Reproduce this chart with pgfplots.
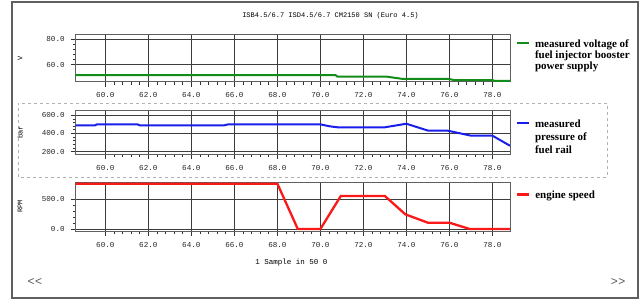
\documentclass[border=0pt]{standalone}
\usepackage{fontspec}
\setmainfont{Liberation Serif}
\setmonofont{Liberation Mono}
\setsansfont{Liberation Sans}
\usepackage{pgfplots}
\pgfplotsset{compat=1.18}
\definecolor{cgreen}{RGB}{20,140,25}
\definecolor{cblue}{RGB}{25,30,235}
\definecolor{cred}{RGB}{250,25,25}
\definecolor{gridc}{RGB}{60,60,60}
\definecolor{framec}{RGB}{95,95,95}
\pgfplotsset{panel/.style={
  scale only axis, width=434.3pt,
  xmin=58.62, xmax=78.82,
  xtick={60,62,...,78}, minor x tick num=4, minor y tick num=4,
  grid=major, major grid style={draw=gridc, line width=0.8pt},
  axis line style={draw=framec, line width=1pt},
  tick align=outside, tick pos=left,
  major tick length=5pt, minor tick length=3pt,
  every tick/.style={draw=black!80, line width=0.8pt},
  ticklabel style={font=\ttfamily\fontsize{7.6}{8}\selectfont, text=black!85},
  /pgf/number format/assume math mode=true,
  xticklabel style={yshift=-2.5pt, /pgf/number format/.cd, fixed, fixed zerofill, precision=1},
  yticklabel style={xshift=-2.5pt, /pgf/number format/.cd, fixed, fixed zerofill, precision=1},
  every axis y label/.style={at={(axis description cs:-0.128,0.5)}, anchor=center, rotate=90, font=\ttfamily\fontsize{7}{7}\selectfont},
  legend style={draw=none, fill=none, at={(rel axis cs:1,1)}, anchor=north west,
     inner sep=0pt, outer sep=0pt, xshift=6pt, yshift=-2.5pt,
     font=\bfseries\fontsize{11}{11}\selectfont, cells={anchor=base west}, column sep=3pt},
  legend image code/.code={\draw[#1] (0pt,3.8pt) -- (12pt,3.8pt);},
}}
\begin{document}
\begin{tikzpicture}
\useasboundingbox (0pt,0pt) rectangle (642pt,303pt);
% outer frame and middle box
\draw[framec, line width=1.5pt] (12pt,5pt) rectangle (638pt,301pt);
\draw[black!30, dashed, line width=0.6pt] (18pt,126pt) rectangle (607pt,200pt);
% title and footer
\node[font=\ttfamily\fontsize{7}{8}\selectfont] at (330.5pt,287pt) {ISB4.5/6.7 ISD4.5/6.7 CM2150 SN (Euro 4.5)};
\node[font=\ttfamily\fontsize{7.5}{8}\selectfont] at (291.5pt,40pt) {1 Sample in 50 0};
\node[font=\sffamily\fontsize{12}{12}\selectfont, text=black!65] at (35pt,21pt) {{<}\kern0.5pt{<}};
\node[font=\sffamily\fontsize{12}{12}\selectfont, text=black!65] at (618pt,21pt) {{>}\kern0.5pt{>}};

% top panel: voltage
\begin{axis}[panel, at={(75.7pt,221.3pt)}, anchor=south west, height=46.7pt,
  ymin=46.8, ymax=83.1, ytick={60,80}, ylabel={V}]
\addplot[cgreen, line width=2pt] coordinates {
 (58.62,52.0) (70.7,52.0) (70.8,50.7) (73.1,50.7) (73.85,48.9) (76.0,48.9)
 (76.2,48.1) (78.0,48.1) (78.1,47.4) (78.82,47.4)};
\addlegendentry{\parbox[t]{110pt}{\raggedright measured voltage of\\fuel injector booster\\power supply}}
\end{axis}

% middle panel: pressure
\begin{axis}[panel, at={(75.7pt,148.7pt)}, anchor=south west, height=44.3pt,
  ymin=171, ymax=658, ytick={200,400,600}, ylabel={bar}, legend style={yshift=-5pt}]
\addplot[cblue, line width=2pt] coordinates {
 (58.62,488) (59.5,488) (59.6,500) (61.5,500) (61.6,488) (65.5,488) (65.7,500)
 (70.0,500) (70.45,478) (70.8,468) (73.0,468) (74.0,507) (75.0,432) (75.9,432)
 (77.0,376) (78.0,376) (78.82,265)};
\addlegendentry{\parbox[t]{80pt}{\fontsize{11}{13}\selectfont\raggedright measured\\pressure of\\fuel rail}}
\end{axis}

% bottom panel: engine speed
\begin{axis}[panel, at={(75.7pt,72pt)}, anchor=south west, height=48.7pt,
  ymin=-33, ymax=778, ytick={0,500}, ylabel={RPM}, legend style={yshift=-4pt}]
\addplot[cred, line width=2.3pt] coordinates {
 (58.62,755) (68.0,755) (68.95,0) (70.0,0) (70.95,550) (73.0,550) (73.95,245)
 (75.0,105) (76.0,105) (76.95,0) (78.82,0)};
\addlegendentry{engine speed}
\end{axis}
\end{tikzpicture}
\end{document}
